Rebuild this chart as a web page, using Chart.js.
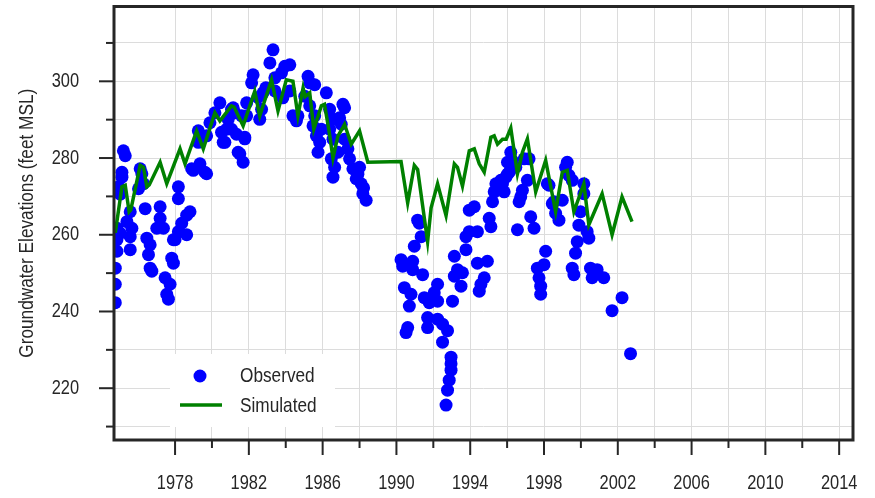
<!DOCTYPE html>
<html>
<head>
<meta charset="utf-8">
<script src="https://cdn.jsdelivr.net/npm/chart.js@4.4.0/dist/chart.umd.min.js"></script>
<style>
  html, body { margin: 0; padding: 0; background: #fff; }
  canvas { display: block; }
</style>
</head>
<body>
<canvas id="grafico" width="875" height="498"></canvas>
<script>
// Observed water levels (decimal year / feet MSL)
const obsYears = [
  1974.76, 1974.76, 1974.76, 1974.85, 1974.85, 1974.85, 1975.03, 1975.20, 1975.30, 1975.12,
  1975.12, 1974.94, 1975.03, 1976.11, 1976.20, 1976.29, 1976.02, 1975.57, 1975.39, 1975.66,
  1975.57, 1975.57, 1976.38, 1976.47, 1976.65, 1976.56, 1976.65, 1976.74, 1977.19, 1977.19,
  1977.01, 1977.37, 1977.46, 1977.73, 1977.55, 1977.64, 1977.82, 1977.91, 1978.00, 1978.18,
  1978.36, 1978.63, 1978.63, 1978.81, 1978.18, 1978.18, 1978.90, 1979.35, 1979.62, 1977.91,
  1983.31, 1983.14, 1982.23, 1982.15, 1983.95, 1984.22, 1983.77, 1982.77, 1982.59, 1981.88,
  1981.88, 1981.78, 1981.51, 1981.69, 1981.15, 1980.79, 1980.61, 1980.16, 1979.89, 1979.71,
  1979.26, 1979.26, 1978.99, 1979.71, 1984.39, 1985.21, 1985.30, 1985.57, 1985.03, 1984.66,
  1984.58, 1982.69, 1981.61, 1981.06, 1980.88, 1980.52, 1980.70, 1981.24, 1981.06, 1981.78,
  1981.42, 1982.92, 1983.41, 1982.49, 1980.43, 1981.33, 1984.22, 1983.84, 1983.41,
  1986.20, 1985.30, 1985.57, 1985.48, 1985.66, 1985.75, 1986.38, 1986.56, 1986.38, 1986.56,
  1986.47, 1986.65, 1986.56, 1987.10, 1987.19, 1986.92, 1987.01, 1987.19, 1987.37, 1987.46,
  1987.64, 1987.82, 1988.00, 1988.09, 1988.18, 1988.36, 1986.83, 1985.93, 1985.84, 1987.91,
  1988.22,
  1990.25, 1990.34, 1990.88, 1990.88, 1990.43, 1990.79, 1990.70, 1990.61, 1990.52, 1991.15,
  1991.24, 1991.34, 1990.97, 1991.42, 1991.51, 1991.78, 1992.05, 1992.23, 1992.23, 1991.69,
  1991.69, 1992.23, 1992.50, 1992.77, 1992.50, 1992.96, 1992.96, 1992.96, 1992.86, 1992.77,
  1992.69, 1993.04, 1993.14, 1993.31, 1993.14, 1993.58, 1993.50, 1993.77, 1993.77, 1993.95,
  1994.39, 1993.95, 1994.22, 1994.39, 1994.93, 1994.76, 1994.58, 1994.49, 1995.03, 1995.12,
  1995.21, 1995.30, 1995.48, 1995.75, 1995.93, 1996.02, 1996.20, 1996.47, 1996.11, 1995.66,
  1995.39, 1996.27, 1996.02, 1996.92, 1997.19, 1997.10, 1996.83, 1996.74, 1996.65, 1997.28,
  1997.46, 1996.56, 1998.09, 1998.00, 1997.64, 1997.73, 1997.82, 1997.82, 1998.27, 1998.45,
  1998.63, 1998.81, 1999.26, 1999.35, 1999.53, 1998.99, 1999.17, 2000.16, 2000.16, 1999.98,
  1999.89, 2000.34, 2000.43, 1999.80, 1999.71, 1999.53, 1999.62, 2000.52, 2000.61, 2000.88,
  2001.24, 2002.23, 2001.69, 2002.69, 1998.18, 1998.54, 1995.84
];
const obsValues = [
  242.3, 247.1, 251.3, 255.7, 258.7, 261.7, 260.4, 281.9, 280.6, 276.3,
  275.0, 272.5, 270.6, 277.2, 275.9, 273.3, 272.0, 266.0, 263.4, 261.7,
  259.5, 256.1, 266.8, 259.1, 257.4, 254.8, 251.3, 250.5, 267.3, 264.3,
  261.7, 261.7, 248.8, 247.1, 244.5, 243.2, 253.9, 252.6, 258.7, 260.8,
  263.0, 265.1, 260.0, 266.0, 272.5, 269.4, 277.2, 278.5, 276.3, 258.7,
  308.2, 304.8, 301.7, 299.6, 303.9, 304.3, 302.2, 297.0, 290.1, 294.4,
  291.0, 285.4, 281.1, 278.9, 293.1, 287.5, 284.1, 291.8, 289.2, 285.8,
  287.1, 284.1, 276.8, 275.9, 291.0, 301.3, 299.6, 299.1, 296.1, 291.0,
  289.7, 292.7, 291.0, 292.7, 290.1, 286.7, 284.1, 291.8, 287.5, 285.0,
  281.5, 298.3, 300.9, 295.8, 294.4, 286.2, 297.5, 295.7, 297.5,
  297.0, 293.6, 291.0, 288.4, 285.8, 281.5, 292.7, 290.1, 287.5, 284.9,
  279.8, 277.6, 275.0, 294.0, 293.1, 290.5, 288.8, 284.9, 282.4, 279.8,
  277.2, 274.6, 277.6, 273.3, 270.7, 269.0, 281.5, 287.5, 284.1, 275.8,
  272.2,
  253.5, 251.8, 253.1, 250.9, 246.2, 244.5, 241.4, 235.8, 234.5, 263.8,
  263.0, 259.5, 257.0, 249.6, 243.6, 242.3, 244.9, 247.1, 242.7, 238.4,
  235.8, 238.0, 236.7, 235.0, 232.0, 228.1, 226.4, 224.7, 222.1, 219.5,
  215.6, 242.7, 254.4, 250.9, 249.2, 250.1, 246.6, 256.1, 259.5, 260.8,
  260.8, 266.4, 267.3, 252.6, 253.1, 248.8, 247.1, 245.3, 264.3, 262.1,
  268.6, 271.2, 272.5, 273.3, 275.0, 278.9, 281.5, 277.6, 276.3, 274.2,
  273.3, 279.4, 275.8, 279.8, 279.8, 274.2, 271.6, 269.9, 268.6, 264.7,
  261.7, 261.3, 255.7, 252.2, 251.3, 248.8, 246.6, 244.5, 272.9, 268.1,
  265.6, 263.8, 278.9, 275.5, 274.2, 269.0, 277.6, 273.3, 270.7, 266.0,
  262.5, 260.8, 259.1, 258.2, 255.2, 251.3, 249.6, 251.3, 248.8, 250.9,
  248.8, 243.6, 240.2, 229.0, 273.3, 268.6, 271.2
];

// Simulated water levels
const simYears = [
  1974.76, 1975.12, 1975.30, 1975.51, 1975.60, 1976.11, 1976.29, 1976.47, 1976.60, 1977.19,
  1977.55, 1978.27, 1978.54, 1979.17, 1979.53, 1980.16, 1980.43, 1981.06, 1981.20, 1981.69,
  1982.32, 1982.59, 1983.23, 1983.58, 1984.03, 1984.39, 1984.66, 1984.94, 1985.05, 1985.30,
  1985.52, 1985.93, 1986.10, 1986.35, 1986.56, 1986.83, 1987.10, 1987.19, 1987.55, 1988.00,
  1988.45, 1990.25, 1990.61, 1990.97, 1991.15, 1991.69, 1991.88, 1992.23, 1992.69, 1993.14,
  1993.31, 1993.58, 1993.95, 1994.22, 1994.49, 1994.76, 1995.12, 1995.30, 1995.48, 1995.75,
  1995.95, 1996.20, 1996.56, 1996.83, 1997.10, 1997.55, 1998.09, 1998.63, 1998.99, 1999.26,
  1999.62, 2000.16, 2000.43, 2001.15, 2001.69, 2002.23, 2002.77
];
const simValues = [
  260.5, 272.5, 272.9, 266.0, 266.5, 278.1, 277.6, 272.5, 273.0, 278.9,
  273.3, 282.4, 278.5, 287.1, 282.4, 291.8, 289.7, 293.6, 293.3, 288.4,
  297.4, 291.0, 300.4, 292.3, 300.4, 300.0, 291.0, 298.3, 296.0, 297.0,
  287.5, 293.6, 294.0, 287.0, 280.0, 285.8, 288.0, 288.8, 283.6, 287.1,
  278.9, 279.1, 268.3, 278.1, 277.0, 258.2, 267.0, 273.3, 265.0, 278.5,
  277.6, 272.7, 281.9, 282.4, 278.5, 276.3, 285.4, 285.8, 283.6, 284.9,
  284.9, 287.8, 275.9, 281.5, 285.0, 271.2, 279.4, 266.0, 276.3, 276.8,
  266.0, 273.3, 262.6, 270.7, 260.0, 269.9, 263.4
];

const xTickYears = [1978, 1980, 1982, 1984, 1986, 1988, 1990, 1992, 1994, 1996,
                    1998, 2000, 2002, 2004, 2006, 2008, 2010, 2012, 2014];
const xLabelYears = [1978, 1982, 1986, 1990, 1994, 1998, 2002, 2006, 2010, 2014];
const yTickValues = [210, 220, 230, 240, 250, 260, 270, 280, 290, 300, 310];
const yLabelValues = [220, 240, 260, 280, 300];

const fonte = "'Liberation Sans', Arial, sans-serif";
const corTexto = '#262626';
const estreito = 0.82; // imita Arial Narrow

const observados = obsYears.map((x, i) => ({ x: x, y: obsValues[i] }));
const simulados = simYears.map((x, i) => ({ x: x, y: simValues[i] }));

// texto estreito: escala horizontal no proprio canvas
function textoEstreito(ctx, txt, x, y, align) {
  ctx.save();
  ctx.translate(x, y);
  ctx.scale(estreito, 1);
  ctx.textAlign = align;
  ctx.fillText(txt, 0, 0);
  ctx.restore();
}

// moldura, marcas de escala, rotulos dos eixos
const molduraPlugin = {
  id: 'moldura',
  afterDraw(chart) {
    const ctx = chart.ctx;
    const a = chart.chartArea;
    const xs = chart.scales.x, ys = chart.scales.y;
    ctx.save();
    ctx.strokeStyle = corTexto;
    ctx.lineWidth = 2;
    xTickYears.forEach(v => {
      const px = xs.getPixelForValue(v);
      const len = xLabelYears.includes(v) ? 15 : 8;
      ctx.beginPath();
      ctx.moveTo(px, a.bottom);
      ctx.lineTo(px, a.bottom + len);
      ctx.stroke();
    });
    yTickValues.forEach(v => {
      const py = ys.getPixelForValue(v);
      const len = yLabelValues.includes(v) ? 15 : 8;
      ctx.beginPath();
      ctx.moveTo(a.left, py);
      ctx.lineTo(a.left - len, py);
      ctx.stroke();
    });
    ctx.lineWidth = 3;
    ctx.strokeRect(a.left, a.top, a.right - a.left, a.bottom - a.top);

    ctx.fillStyle = corTexto;
    ctx.font = '20px ' + fonte;
    ctx.textBaseline = 'middle';
    xLabelYears.forEach(v => {
      textoEstreito(ctx, String(v), xs.getPixelForValue(v), a.bottom + 43, 'center');
    });
    yLabelValues.forEach(v => {
      textoEstreito(ctx, String(v), a.left - 35, ys.getPixelForValue(v), 'right');
    });

    ctx.font = '21px ' + fonte;
    ctx.save();
    ctx.translate(27, (a.top + a.bottom) / 2);
    ctx.rotate(-Math.PI / 2);
    ctx.scale(estreito, 1);
    ctx.textAlign = 'center';
    ctx.fillText('Groundwater Elevations (feet MSL)', 0, 0);
    ctx.restore();
    ctx.restore();
  }
};

// legenda dentro do grafico
const legendaPlugin = {
  id: 'legenda',
  afterDatasetsDraw(chart) {
    const ctx = chart.ctx;
    const a = chart.chartArea;
    const x0 = a.left + 56, y0 = a.bottom - 86;
    ctx.save();
    ctx.fillStyle = '#ffffff';
    ctx.fillRect(x0, y0, 165, 73);
    ctx.fillStyle = '#0000ff';
    ctx.beginPath();
    ctx.arc(x0 + 30, y0 + 22, 6.5, 0, Math.PI * 2);
    ctx.fill();
    ctx.strokeStyle = '#008000';
    ctx.lineWidth = 3.5;
    ctx.beginPath();
    ctx.moveTo(x0 + 10, y0 + 51);
    ctx.lineTo(x0 + 52, y0 + 51);
    ctx.stroke();
    ctx.fillStyle = corTexto;
    ctx.font = '21px ' + fonte;
    ctx.textBaseline = 'middle';
    textoEstreito(ctx, 'Observed', x0 + 70, y0 + 22, 'left');
    textoEstreito(ctx, 'Simulated', x0 + 70, y0 + 52, 'left');
    ctx.restore();
  }
};

const ctx = document.getElementById('grafico').getContext('2d');
new Chart(ctx, {
  type: 'scatter',
  data: {
    datasets: [
      {
        label: 'Simulated',
        data: simulados,
        showLine: true,
        borderColor: '#008000',
        borderWidth: 3.5,
        pointRadius: 0,
        tension: 0,
        fill: false,
        clip: 0,
        order: 0
      },
      {
        label: 'Observed',
        data: observados,
        backgroundColor: '#0000ff',
        borderWidth: 0,
        pointRadius: 6.5,
        clip: 0,
        order: 1
      }
    ]
  },
  options: {
    responsive: false,
    animation: false,
    layout: { padding: { left: 0, right: 22, top: 5, bottom: 0 } },
    plugins: {
      legend: { display: false },
      tooltip: { enabled: false }
    },
    scales: {
      x: {
        type: 'linear',
        min: 1974.69,
        max: 2014.75,
        afterBuildTicks: s => { s.ticks = xTickYears.map(v => ({ value: v })); },
        afterFit: s => {
          s.height = 58;
          s.paddingLeft = 0; s.paddingRight = 0; s.paddingTop = 0; s.paddingBottom = 0;
        },
        grid: { color: '#dcdcdc', lineWidth: 1, drawTicks: false },
        border: { display: false },
        ticks: { display: false }
      },
      y: {
        type: 'linear',
        min: 206.5,
        max: 319.5,
        afterBuildTicks: s => { s.ticks = yTickValues.map(v => ({ value: v })); },
        afterFit: s => {
          s.width = 114;
          s.paddingLeft = 0; s.paddingRight = 0; s.paddingTop = 0; s.paddingBottom = 0;
        },
        grid: { color: '#dcdcdc', lineWidth: 1, drawTicks: false },
        border: { display: false },
        ticks: { display: false }
      }
    }
  },
  plugins: [legendaPlugin, molduraPlugin]
});
</script>
</body>
</html>
